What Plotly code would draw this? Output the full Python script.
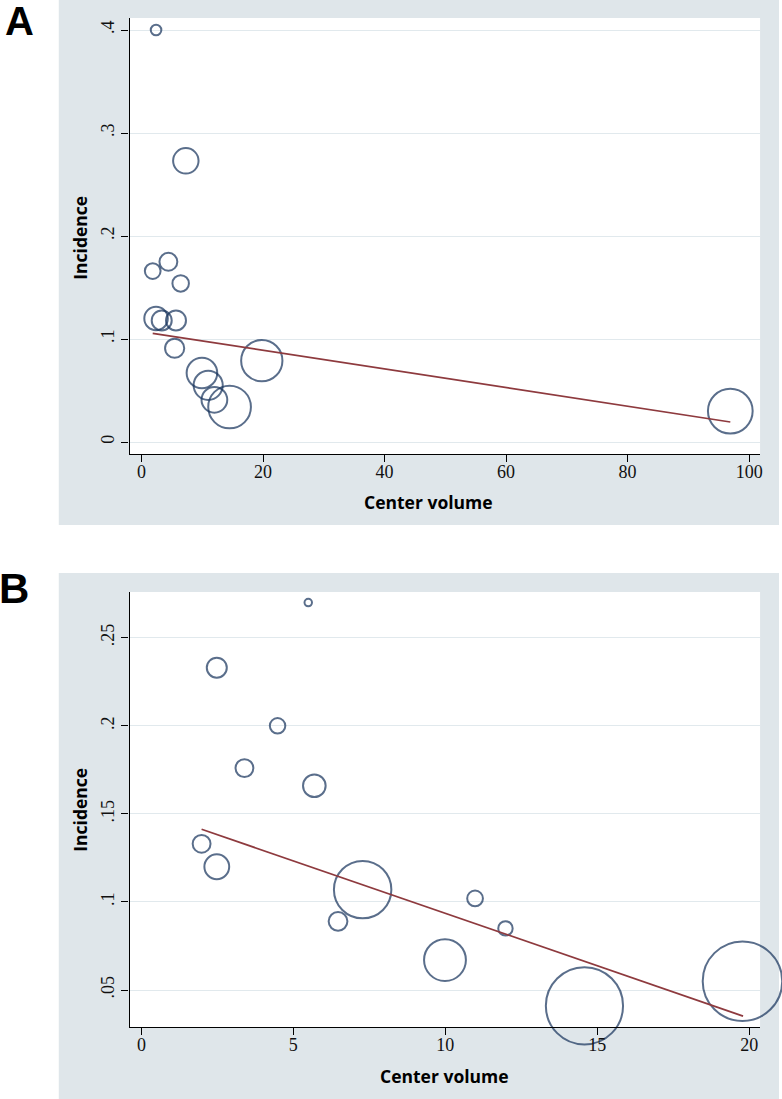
import plotly.graph_objects as go

# ---------------- Data ----------------
# Panel A
a_volume = [2.4, 7.3, 1.85, 4.43, 6.45, 2.4, 3.33, 5.68, 5.46, 9.95, 10.98, 12.0, 14.5, 19.8, 96.9]
a_incidence = [0.400, 0.273, 0.166, 0.175, 0.154, 0.120, 0.118, 0.118, 0.091, 0.067, 0.055, 0.041, 0.034, 0.079, 0.030]
a_weight = [14, 81, 31, 40, 34, 69, 50, 50, 46, 117, 106, 83, 228, 213, 250]
a_fit_x = [1.85, 96.9]
a_fit_y = [0.1055, 0.0194]
a_xticks = [0, 20, 40, 60, 80, 100]
a_yticks = [0, 0.1, 0.2, 0.3, 0.4]
a_yticklabels = ["0", ".1", ".2", ".3", ".4"]

# Panel B
b_volume = [5.49, 2.48, 4.48, 3.39, 5.69, 1.98, 2.48, 7.28, 6.47, 10.98, 9.99, 11.98, 14.58, 19.78]
b_incidence = [0.270, 0.233, 0.200, 0.176, 0.166, 0.133, 0.120, 0.107, 0.089, 0.102, 0.067, 0.085, 0.041, 0.055]
b_weight = [7, 50, 30, 40, 64, 40, 77, 412, 44, 31, 219, 26, 745, 790]
b_fit_x = [1.98, 19.8]
b_fit_y = [0.1413, 0.0352]
b_xticks = [0, 5, 10, 15, 20]
b_yticks = [0.05, 0.10, 0.15, 0.20, 0.25]
b_yticklabels = [".05", ".1", ".15", ".2", ".25"]

x_title = "Center volume"
y_title = "Incidence"

# ---------------- Style ----------------
W, H = 782, 1099
NAVY = "#14305a"
MAROON = "#8e3a3e"
PANEL_BG = "#dfe6ea"
GRID = "#e1e9ed"
TICKFONT = dict(family="Liberation Serif", size=18, color="#111111")
TITLEFONT = dict(family="Open Sans", size=17.5, color="#000000")

def px(xp):
    return xp / W

def py(yp):
    return 1 - yp / H

fig = go.Figure()

for xs, ys, ws, fx, fy, xa, ya in [
    (a_volume, a_incidence, a_weight, a_fit_x, a_fit_y, "x", "y"),
    (b_volume, b_incidence, b_weight, b_fit_x, b_fit_y, "x2", "y2"),
]:
    fig.add_trace(go.Scatter(
        x=xs, y=ys, mode="markers", xaxis=xa, yaxis=ya, cliponaxis=False,
        marker=dict(size=ws, sizemode="area", sizeref=0.25, symbol="circle-open",
                    color=NAVY, line=dict(width=2.0, color=NAVY)),
        showlegend=False, hoverinfo="skip"))
    fig.add_trace(go.Scatter(
        x=fx, y=fy, mode="lines", xaxis=xa, yaxis=ya,
        line=dict(color=MAROON, width=1.7),
        showlegend=False, hoverinfo="skip"))

axis_common = dict(showline=True, linecolor="#000000", linewidth=1.2,
                   ticks="outside", ticklen=7, tickwidth=1.2, tickcolor="#000000",
                   zeroline=False, tickfont=TICKFONT)

fig.update_layout(
    width=W, height=H,
    margin=dict(l=0, r=0, t=0, b=0),
    paper_bgcolor="white", plot_bgcolor="white",
    xaxis=dict(domain=[px(130), px(763)], range=[-1.97, 101.8], anchor="y",
               tickvals=a_xticks, showgrid=False, ticklabelstandoff=-6, **axis_common),
    yaxis=dict(domain=[py(454), py(18)], range=[-0.01165, 0.4117], anchor="x",
               tickvals=a_yticks, ticktext=a_yticklabels, tickangle=-90,
               showgrid=True, gridcolor=GRID, gridwidth=1.3, **axis_common),
    xaxis2=dict(domain=[px(130), px(763)], range=[-0.393, 20.36], anchor="y2",
                tickvals=b_xticks, showgrid=False, ticklabelstandoff=-6, **axis_common),
    yaxis2=dict(domain=[py(1027), py(592)], range=[0.029, 0.276], anchor="x2",
                tickvals=b_yticks, ticktext=b_yticklabels, tickangle=-90,
                showgrid=True, gridcolor=GRID, gridwidth=1.3, **axis_common),
)

shapes = []
for (x0, y0, x1, y1, col) in [
    (59, 0, 782, 525, PANEL_BG),
    (59, 573, 782, 1099, PANEL_BG),
    (130, 18, 763, 454, "white"),
    (130, 592, 763, 1027, "white"),
]:
    shapes.append(dict(type="rect", xref="paper", yref="paper",
                       x0=px(x0), x1=px(x1), y0=py(y1), y1=py(y0),
                       fillcolor=col, line=dict(width=0), layer="below"))
fig.update_layout(shapes=shapes)

ann = []
# panel letters
ann.append(dict(text="<b>A</b>", x=px(20), y=py(21), xref="paper", yref="paper",
                showarrow=False, font=dict(family="Liberation Sans", size=40, color="black"),
                xanchor="center", yanchor="middle"))
ann.append(dict(text="<b>B</b>", x=px(14), y=py(588), xref="paper", yref="paper",
                showarrow=False, font=dict(family="Liberation Sans", size=42, color="black"),
                xanchor="center", yanchor="middle"))
# axis titles
for (xc, yc, txt, ang) in [
    (430, 502, x_title, 0),
    (446, 1076, x_title, 0),
    (80, 238, y_title, -90),
    (80, 810, y_title, -90),
]:
    ann.append(dict(text="<b>" + txt + "</b>", x=px(xc), y=py(yc), xref="paper", yref="paper",
                    showarrow=False, font=TITLEFONT, textangle=ang,
                    xanchor="center", yanchor="middle"))
fig.update_layout(annotations=ann)

fig.write_html("out.html", config={"displayModeBar": False},
               post_script="document.body.style.margin='0';document.body.style.overflow='hidden';")
